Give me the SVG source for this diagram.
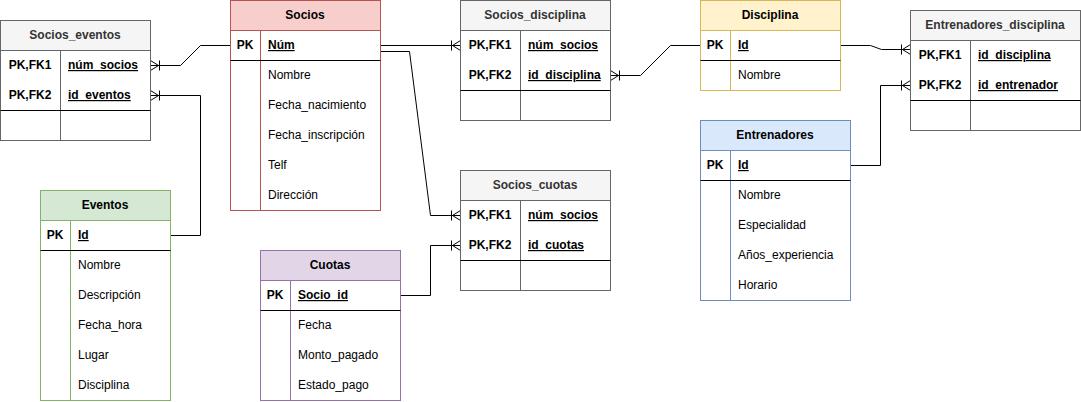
<svg xmlns="http://www.w3.org/2000/svg" width="1081" height="402" viewBox="0 0 1081 402">
<defs>
<style>
text{font-family:"Liberation Sans",Arial,Helvetica,sans-serif;font-size:12px;fill:#000}
.hd{font-weight:bold;text-anchor:middle}
.hg{fill:#333333}
.k{font-weight:bold;text-anchor:middle}
.kf{font-weight:bold;text-decoration:underline}
.body{fill:#ffffff}
.sep{stroke:#000000;stroke-width:1}
.conn path{fill:none;stroke:#000000;stroke-width:1}
.g .frame{stroke:#666666}.g .hfill{fill:#f5f5f5;stroke:#666666}
.r .frame{stroke:#b85450}.r .hfill{fill:#f8cecc;stroke:#b85450}
.y .frame{stroke:#d6b656}.y .hfill{fill:#fff2cc;stroke:#d6b656}
.b .frame{stroke:#6c8ebf}.b .hfill{fill:#dae8fc;stroke:#6c8ebf}
.gr .frame{stroke:#82b366}.gr .hfill{fill:#d5e8d4;stroke:#82b366}
.p .frame{stroke:#9673a6}.p .hfill{fill:#e1d5e7;stroke:#9673a6}
.frame{fill:#ffffff;stroke-width:1}
</style>
<marker id="crow" markerUnits="userSpaceOnUse" viewBox="-12 -7 14 14" refX="0" refY="0" markerWidth="14" markerHeight="14" orient="auto" overflow="visible">
<path d="M-8,0 L0,-5 M-8,0 L0,0 M-8,0 L0,5 M-9,-5 L-9,5" fill="none" stroke="#000" stroke-width="1"/>
</marker>
</defs>

<g id="connectors" class="conn">
<path d="M230.5,45.5 L200.5,45.5 L180.5,65.5 L150.5,65.5" marker-end="url(#crow)"/>
<path d="M170.5,235.5 L200.5,235.5 L200.5,95.5 L150.5,95.5" marker-end="url(#crow)"/>
<path d="M380.5,45.5 L460.5,45.5" marker-end="url(#crow)"/>
<path d="M380.5,51.5 L409.5,51.5 L430.5,215.5 L460.5,215.5" marker-end="url(#crow)"/>
<path d="M700.5,45.5 L670.5,45.5 L640.5,75.5 L610.5,75.5" marker-end="url(#crow)"/>
<path d="M840.5,45.5 L870.5,45.5 L881.5,49.5 L910.5,49.5" marker-end="url(#crow)"/>
<path d="M850.5,165.5 L880.5,165.5 L880.5,85.5 L910.5,85.5" marker-end="url(#crow)"/>
<path d="M400.5,295.5 L430.5,295.5 L430.5,245.5 L460.5,245.5" marker-end="url(#crow)"/>
</g>

<g id="socios_eventos" class="g">
<rect class="frame" x="0.5" y="20.5" width="150" height="120"/>
<rect class="hfill" x="0.5" y="20.5" width="150" height="30"/>
<line class="frame" x1="60.5" y1="50.5" x2="60.5" y2="140.5"/>
<line class="sep" x1="0.5" y1="110.5" x2="150.5" y2="110.5"/>
<text class="hd hg" x="75" y="39">Socios_eventos</text>
<text class="k" x="30" y="69">PK,FK1</text>
<text class="kf" x="68" y="69">núm_socios</text>
<text class="k" x="30" y="99">PK,FK2</text>
<text class="kf" x="68" y="99">id_eventos</text>
</g>

<g id="socios" class="r">
<rect class="frame" x="230.5" y="0.5" width="150" height="210"/>
<rect class="hfill" x="230.5" y="0.5" width="150" height="30"/>
<line class="frame" x1="260.5" y1="30.5" x2="260.5" y2="210.5"/>
<line class="sep" x1="230.5" y1="60.5" x2="380.5" y2="60.5"/>
<text class="hd" x="305" y="19">Socios</text>
<text class="k" x="245" y="49">PK</text>
<text class="kf" x="268" y="49">Núm</text>
<text x="268" y="79">Nombre</text>
<text x="268" y="109">Fecha_nacimiento</text>
<text x="268" y="139">Fecha_inscripción</text>
<text x="268" y="169">Telf</text>
<text x="268" y="199">Dirección</text>
</g>

<g id="socios_disciplina" class="g">
<rect class="frame" x="460.5" y="0.5" width="150" height="120"/>
<rect class="hfill" x="460.5" y="0.5" width="150" height="30"/>
<line class="frame" x1="520.5" y1="30.5" x2="520.5" y2="120.5"/>
<line class="sep" x1="460.5" y1="90.5" x2="610.5" y2="90.5"/>
<text class="hd hg" x="535" y="19">Socios_disciplina</text>
<text class="k" x="490" y="49">PK,FK1</text>
<text class="kf" x="528" y="49">núm_socios</text>
<text class="k" x="490" y="79">PK,FK2</text>
<text class="kf" x="528" y="79">id_disciplina</text>
</g>

<g id="disciplina" class="y">
<rect class="frame" x="700.5" y="0.5" width="140" height="90"/>
<rect class="hfill" x="700.5" y="0.5" width="140" height="30"/>
<line class="frame" x1="730.5" y1="30.5" x2="730.5" y2="90.5"/>
<line class="sep" x1="700.5" y1="60.5" x2="840.5" y2="60.5"/>
<text class="hd" x="770" y="19">Disciplina</text>
<text class="k" x="715" y="49">PK</text>
<text class="kf" x="738" y="49">Id</text>
<text x="738" y="79">Nombre</text>
</g>

<g id="entrenadores_disciplina" class="g">
<rect class="frame" x="910.5" y="10.5" width="170" height="120"/>
<rect class="hfill" x="910.5" y="10.5" width="170" height="30"/>
<line class="frame" x1="970.5" y1="40.5" x2="970.5" y2="130.5"/>
<line class="sep" x1="910.5" y1="100.5" x2="1080.5" y2="100.5"/>
<text class="hd hg" x="995" y="29">Entrenadores_disciplina</text>
<text class="k" x="940" y="59">PK,FK1</text>
<text class="kf" x="978" y="59">id_disciplina</text>
<text class="k" x="940" y="89">PK,FK2</text>
<text class="kf" x="978" y="89">id_entrenador</text>
</g>

<g id="entrenadores" class="b">
<rect class="frame" x="700.5" y="120.5" width="150" height="180"/>
<rect class="hfill" x="700.5" y="120.5" width="150" height="30"/>
<line class="frame" x1="730.5" y1="150.5" x2="730.5" y2="300.5"/>
<line class="sep" x1="700.5" y1="180.5" x2="850.5" y2="180.5"/>
<text class="hd" x="775" y="139">Entrenadores</text>
<text class="k" x="715" y="169">PK</text>
<text class="kf" x="738" y="169">Id</text>
<text x="738" y="199">Nombre</text>
<text x="738" y="229">Especialidad</text>
<text x="738" y="259">Años_experiencia</text>
<text x="738" y="289">Horario</text>
</g>

<g id="socios_cuotas" class="g">
<rect class="frame" x="460.5" y="170.5" width="150" height="120"/>
<rect class="hfill" x="460.5" y="170.5" width="150" height="30"/>
<line class="frame" x1="520.5" y1="200.5" x2="520.5" y2="290.5"/>
<line class="sep" x1="460.5" y1="260.5" x2="610.5" y2="260.5"/>
<text class="hd hg" x="535" y="189">Socios_cuotas</text>
<text class="k" x="490" y="219">PK,FK1</text>
<text class="kf" x="528" y="219">núm_socios</text>
<text class="k" x="490" y="249">PK,FK2</text>
<text class="kf" x="528" y="249">id_cuotas</text>
</g>

<g id="eventos" class="gr">
<rect class="frame" x="40.5" y="190.5" width="130" height="210"/>
<rect class="hfill" x="40.5" y="190.5" width="130" height="30"/>
<line class="frame" x1="70.5" y1="220.5" x2="70.5" y2="400.5"/>
<line class="sep" x1="40.5" y1="250.5" x2="170.5" y2="250.5"/>
<text class="hd" x="105" y="209">Eventos</text>
<text class="k" x="55" y="239">PK</text>
<text class="kf" x="78" y="239">Id</text>
<text x="78" y="269">Nombre</text>
<text x="78" y="299">Descripción</text>
<text x="78" y="329">Fecha_hora</text>
<text x="78" y="359">Lugar</text>
<text x="78" y="389">Disciplina</text>
</g>

<g id="cuotas" class="p">
<rect class="frame" x="260.5" y="250.5" width="140" height="150"/>
<rect class="hfill" x="260.5" y="250.5" width="140" height="30"/>
<line class="frame" x1="290.5" y1="280.5" x2="290.5" y2="400.5"/>
<line class="sep" x1="260.5" y1="310.5" x2="400.5" y2="310.5"/>
<text class="hd" x="330" y="269">Cuotas</text>
<text class="k" x="275" y="299">PK</text>
<text class="kf" x="298" y="299">Socio_id</text>
<text x="298" y="329">Fecha</text>
<text x="298" y="359">Monto_pagado</text>
<text x="298" y="389">Estado_pago</text>
</g>
</svg>
